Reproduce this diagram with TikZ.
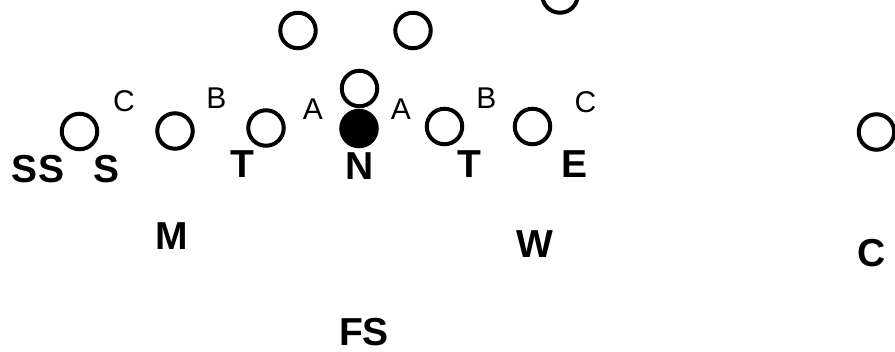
\documentclass[tikz,border=0pt]{standalone}
\usepackage{fontspec}
\setmainfont{Liberation Sans}
\tikzset{
  player/.style={circle, draw=black, line width=4pt, minimum size=35.5pt, inner sep=0pt},
  filledplayer/.style={player, fill=black},
  biglabel/.style={inner sep=0pt, anchor=base, font=\fontsize{39}{39}\selectfont\bfseries},
  gaplabel/.style={inner sep=0pt, anchor=base, font=\fontsize{30}{30}\selectfont},
}
\begin{document}
\begin{tikzpicture}[x=1pt,y=-1pt]
\useasboundingbox (0,0) rectangle (895,352);
\clip (0,0) rectangle (895,352);
\fill[white] (0,0) rectangle (895,352);
% circles
\node[player] (p1) at (79.5,131.5) {};
\node[player] (p2) at (175,131) {};
\node[player] (p3) at (266,128) {};
\node[player] (p4) at (359.5,88.5) {};
\node[filledplayer] (p5) at (359,128.5) {};
\node[player] (p6) at (444.5,126.5) {};
\node[player] (p7) at (532.5,126.5) {};
\node[player] (p8) at (298,30.5) {};
\node[player] (p9) at (413,30.5) {};
\node[player] (p10) at (876.5,132) {};
\node[player] (p11) at (560,-5) {};
% bold labels
\node[biglabel] (lSS) at (38,182.5) {SS};
\node[biglabel] (lS) at (107,182.5) {S};
\node[biglabel] (lT1) at (242.5,178) {T};
\node[biglabel] (lN) at (359.5,180) {N};
\node[biglabel] (lT2) at (469,178) {T};
\node[biglabel] (lE) at (574.5,178) {E};
\node[biglabel] (lM) at (172,250) {M};
\node[biglabel] (lW) at (534.5,258) {W};
\node[biglabel] (lFS) at (364,345.5) {FS};
\node[biglabel] (lC) at (871.5,267) {C};
% gap labels
\node[gaplabel] (gC1) at (124,111.5) {C};
\node[gaplabel] (gB1) at (216.5,109) {B};
\node[gaplabel] (gA1) at (313,119.5) {A};
\node[gaplabel] (gA2) at (401,119.5) {A};
\node[gaplabel] (gB2) at (486.5,109) {B};
\node[gaplabel] (gC2) at (585.5,112.5) {C};
\end{tikzpicture}
\end{document}
